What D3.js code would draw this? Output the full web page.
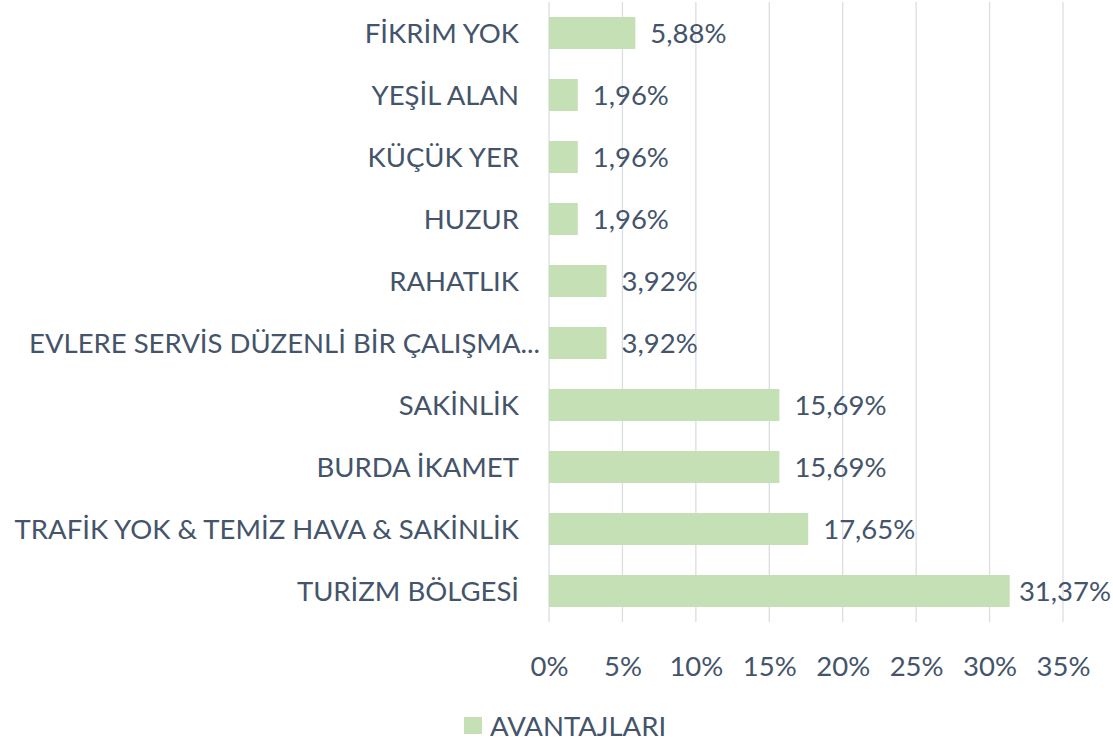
<!DOCTYPE html>
<html>
<head>
<meta charset="utf-8">
<script src="https://cdn.jsdelivr.net/npm/d3@7"></script>
<style>
  body { margin: 0; background: #fff; }
  text { font-family: Lato, "Open Sans", sans-serif; fill: #44546a; }
</style>
</head>
<body>
<div id="chart"></div>
<script>
// data (top to bottom)
const categories = ["FİKRİM YOK", "YEŞİL ALAN", "KÜÇÜK YER", "HUZUR", "RAHATLIK",
  "EVLERE SERVİS DÜZENLİ BİR ÇALIŞMA...", "SAKİNLİK", "BURDA İKAMET",
  "TRAFİK YOK & TEMİZ HAVA & SAKİNLİK", "TURİZM BÖLGESİ"];
const values = [5.88, 1.96, 1.96, 1.96, 3.92, 3.92, 15.69, 15.69, 17.65, 31.37];
const ticks = [0, 5, 10, 15, 20, 25, 30, 35];
const seriesName = "AVANTAJLARI";

// set the dimensions and margins of the graph
const W = 1113, H = 741;
const margin = {top: 2, right: 50, bottom: 119, left: 549},
    width = W - margin.left - margin.right,
    height = H - margin.top - margin.bottom;

const fontSize = 27.5;
const fmt = v => v.toFixed(2).replace(".", ",") + "%";

const svg = d3.select("#chart")
  .append("svg")
    .attr("width", W)
    .attr("height", H);

const g = svg.append("g")
    .attr("transform", `translate(${margin.left},${margin.top})`);

const x = d3.scaleLinear()
    .domain([0, 35])
    .range([0, width]);

const y = d3.scaleBand()
    .domain(categories)
    .range([0, height])
    .paddingInner(0.484)
    .paddingOuter(0.242);

// vertical gridlines
g.selectAll("line.grid")
  .data(ticks)
  .join("line")
    .attr("class", "grid")
    .attr("x1", d => x(d))
    .attr("x2", d => x(d))
    .attr("y1", 0)
    .attr("y2", height)
    .attr("stroke", "#d9dde4")
    .attr("stroke-width", 1.3);

// bottom axis labels only
const xAxis = g.append("g")
    .attr("transform", `translate(0, ${height})`)
    .call(d3.axisBottom(x).tickValues(ticks).tickFormat(d => d + "%").tickSize(0).tickPadding(34));
xAxis.select(".domain").remove();
xAxis.selectAll("text")
    .style("font-size", fontSize + "px")
    .attr("fill", "#44546a");

// bars
g.selectAll("rect.bar")
  .data(values)
  .join("rect")
    .attr("class", "bar")
    .attr("x", x(0))
    .attr("y", (d, i) => y(categories[i]))
    .attr("width", d => x(d) - x(0))
    .attr("height", y.bandwidth())
    .attr("fill", "#c5e0b4");

// category labels
g.selectAll("text.cat")
  .data(categories)
  .join("text")
    .attr("class", "cat")
    .attr("text-anchor", "end")
    .attr("x", d => d.endsWith("...") ? -9 : -30)
    .attr("y", d => y(d) + y.bandwidth() / 2)
    .attr("dy", "0.35em")
    .style("font-size", fontSize + "px")
    .text(d => d);

// value labels, pulled back inside the frame if they would run off
g.selectAll("text.val")
  .data(values)
  .join("text")
    .attr("class", "val")
    .attr("y", (d, i) => y(categories[i]) + y.bandwidth() / 2)
    .attr("dy", "0.35em")
    .style("font-size", fontSize + "px")
    .text(d => fmt(d))
    .attr("x", function(d) {
      const w = this.getComputedTextLength();
      return Math.min(x(d) + 15, W - margin.left - 2 - w);
    });

// legend
const legend = svg.append("g")
    .attr("transform", `translate(464, 717)`);
legend.append("rect")
    .attr("width", 18)
    .attr("height", 17)
    .attr("fill", "#c5e0b4");
legend.append("text")
    .attr("x", 26)
    .attr("y", 9)
    .attr("dy", "0.35em")
    .style("font-size", fontSize + "px")
    .text(seriesName);
</script>
</body>
</html>
